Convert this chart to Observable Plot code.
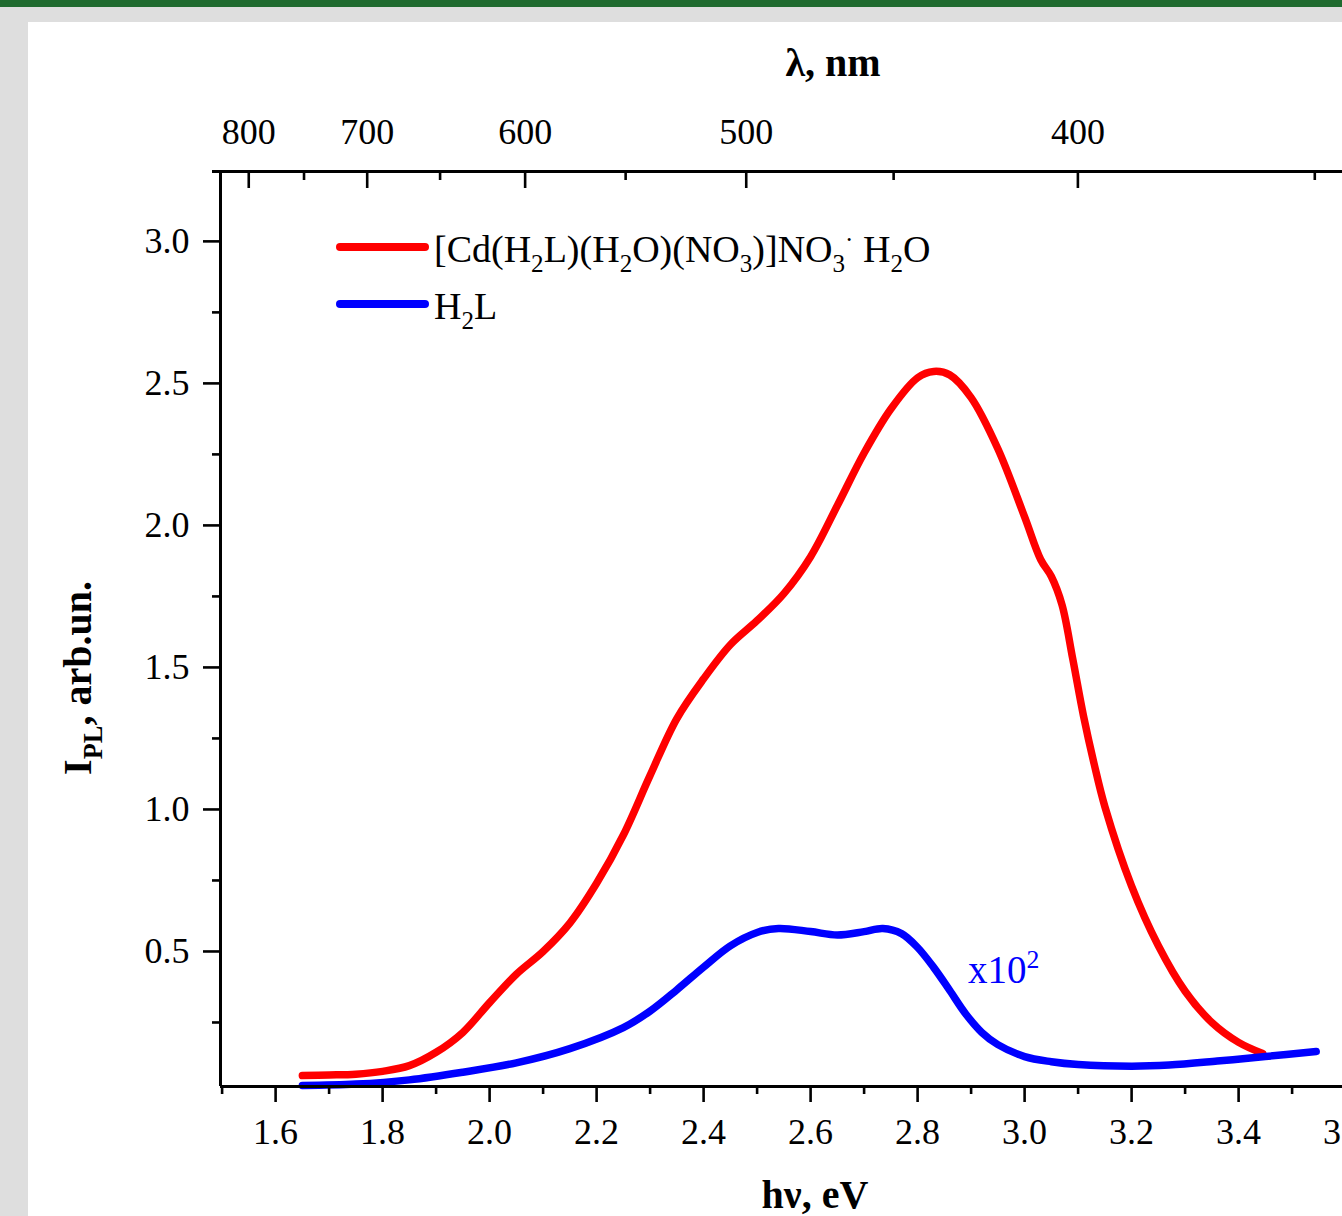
<!DOCTYPE html>
<html>
<head>
<meta charset="utf-8">
<script src="https://cdn.jsdelivr.net/npm/d3@7"></script>
<script src="https://cdn.jsdelivr.net/npm/@observablehq/plot@0.6"></script>
<style>
html, body { margin: 0; padding: 0; width: 1342px; height: 1216px; overflow: hidden; background: #dedede; }
#bar { position: absolute; left: 0; top: 0; width: 1342px; height: 7px; background: #1f6b2f; }
#panel { position: absolute; left: 28px; top: 22px; right: 0; bottom: 0; background: #ffffff; }
#chart { position: absolute; left: 0; top: 0; width: 1430px; height: 1216px; }
#chart svg { max-width: none !important; width: 1430px !important; height: 1216px !important; }
#overlay { position: absolute; left: 0; top: 0; pointer-events: none; }
</style>
</head>
<body>
<div id="bar"></div>
<div id="panel"></div>
<div id="chart"></div>
<svg id="overlay" width="1342" height="1216"></svg>
<script>
// ---------- data ----------
const redEnergy = [1.65,1.70,1.75,1.80,1.85,1.90,1.95,2.00,2.05,2.10,2.15,2.20,2.25,2.30,2.35,2.40,2.45,2.50,2.55,2.60,2.65,2.70,2.75,2.80,2.83,2.86,2.90,2.95,3.00,3.03,3.05,3.07,3.09,3.11,3.13,3.15,3.20,3.25,3.30,3.35,3.40,3.445];
const redIntensity = [0.063,0.065,0.068,0.078,0.098,0.145,0.215,0.32,0.42,0.50,0.60,0.74,0.91,1.12,1.32,1.46,1.58,1.665,1.76,1.89,2.07,2.255,2.41,2.52,2.542,2.53,2.45,2.27,2.03,1.88,1.82,1.72,1.53,1.33,1.16,1.01,0.73,0.52,0.36,0.25,0.18,0.141];

const blueEnergy = [1.65,1.75,1.85,1.95,2.05,2.15,2.25,2.30,2.35,2.40,2.45,2.50,2.54,2.60,2.65,2.70,2.735,2.77,2.80,2.83,2.86,2.89,2.92,2.95,3.00,3.05,3.10,3.20,3.27,3.36,3.45,3.545];
const blueIntensity = [0.028,0.033,0.048,0.075,0.108,0.158,0.232,0.29,0.365,0.445,0.52,0.567,0.581,0.570,0.558,0.570,0.581,0.563,0.514,0.444,0.363,0.28,0.215,0.172,0.13,0.112,0.102,0.096,0.100,0.114,0.130,0.148];

const seriesNames = ["[Cd(H2L)(H2O)(NO3)]NO3· H2O", "H2L"];
const seriesColors = ["#ff0000", "#0000ff"];

const xMajorTicks = [1.6,1.8,2.0,2.2,2.4,2.6,2.8,3.0,3.2,3.4,3.6];
const xMinorTicks = [1.5,1.7,1.9,2.1,2.3,2.5,2.7,2.9,3.1,3.3,3.5,3.7];
const yMajorTicks = [0.5,1.0,1.5,2.0,2.5,3.0];
const yMinorTicks = [0.25,0.75,1.25,1.75,2.25,2.75];
const lambdaMajorTicks = [800,700,600,500,400];
const lambdaMinorTicks = [750,650,550,450,350];

const xDomain = [1.497, 3.72];
const yDomain = [0.0246, 3.246];
const HC = 1239.84; // eV·nm

// ---------- build ----------
const red = redEnergy.map((e, i) => ({e, v: redIntensity[i]}));
const blue = blueEnergy.map((e, i) => ({e, v: blueIntensity[i]}));
const pxPerEV = 535;
const W = 1430, H = 1216;
const mL = 220, mT = 171, mB = H - 1086;
const mR = W - mL - pxPerEV * (xDomain[1] - xDomain[0]);

const chart = Plot.plot({
  width: W,
  height: H,
  marginLeft: mL,
  marginTop: mT,
  marginBottom: mB,
  marginRight: mR,
  x: {domain: xDomain, label: null},
  y: {domain: yDomain, label: null},
  style: {fontFamily: "'Liberation Serif', 'Times New Roman', serif", fontSize: "36px", color: "#000", background: "none", overflow: "visible", maxWidth: "none"},
  marks: [
    Plot.line(red, {x: "e", y: "v", stroke: seriesColors[0], strokeWidth: 7.5, curve: "catmull-rom", strokeLinecap: "round", strokeLinejoin: "round"}),
    Plot.line(blue, {x: "e", y: "v", stroke: seriesColors[1], strokeWidth: 7.5, curve: "catmull-rom", strokeLinecap: "round", strokeLinejoin: "round"}),
    // bottom axis
    Plot.axisX(xMajorTicks, {anchor: "bottom", tickSize: 16, tickPadding: 16, strokeWidth: 2.6, tickFormat: d => d.toFixed(1), label: null}),
    Plot.axisX(xMinorTicks, {anchor: "bottom", tickSize: 8, strokeWidth: 2.6, text: null, label: null}),
    // top axis (wavelength), ticks pointing inward
    Plot.axisX(lambdaMajorTicks.map(l => HC / l), {anchor: "top", tickSize: 16, dy: 16, strokeWidth: 2.6, text: null, label: null}),
    Plot.axisX(lambdaMajorTicks.map(l => HC / l), {anchor: "top", tickSize: 0, tickPadding: 28, tickFormat: d => String(Math.round(HC / d)), label: null}),
    Plot.axisX(lambdaMinorTicks.map(l => HC / l), {anchor: "top", tickSize: 8, dy: 8, strokeWidth: 2.6, text: null, label: null}),
    // left axis
    Plot.axisY(yMajorTicks, {anchor: "left", tickSize: 17, tickPadding: 14, strokeWidth: 2.6, tickFormat: d => d.toFixed(1), label: null}),
    Plot.axisY(yMinorTicks, {anchor: "left", tickSize: 8, strokeWidth: 2.6, text: null, label: null}),
    // axis lines
    Plot.ruleX([xDomain[0]], {stroke: "#000", strokeWidth: 3}),
    Plot.ruleY([yDomain[0]], {stroke: "#000", strokeWidth: 3}),
    Plot.ruleY([yDomain[1]], {x1: xDomain[0] - 8 / pxPerEV, x2: xDomain[1], stroke: "#000", strokeWidth: 3})
  ]
});
document.getElementById("chart").appendChild(chart);

// ---------- overlay texts (titles, legend, annotation) ----------
const sx = chart.scale("x"), sy = chart.scale("y");
const ov = d3.select("#overlay");
const serif = "'Liberation Serif', 'Times New Roman', serif";

function richText(sel, parts, size) {
  let shift = 0;
  parts.forEach(([t, mode]) => {
    const target = mode === "sub" ? size * 0.27 : mode === "sup" ? -size * 0.38 : 0;
    sel.append("tspan")
      .attr("font-size", mode ? size * 0.66 : size)
      .attr("dy", target - shift)
      .text(t);
    shift = target;
  });
}

// axis titles
richText(ov.append("text").attr("x", 833).attr("y", 76).attr("text-anchor", "middle")
  .attr("font-family", serif).attr("font-weight", "bold"), [["λ, nm", ""]], 40);
richText(ov.append("text").attr("x", 815).attr("y", 1208).attr("text-anchor", "middle")
  .attr("font-family", serif).attr("font-weight", "bold"), [["hν, eV", ""]], 40);
richText(ov.append("text").attr("transform", "translate(91,678) rotate(-90)").attr("text-anchor", "middle")
  .attr("font-family", serif).attr("font-weight", "bold"), [["I", ""], ["PL", "sub"], [", arb.un.", ""]], 40);

// legend
const legendParts = [
  [["[Cd(H", ""], ["2", "sub"], ["L)(H", ""], ["2", "sub"], ["O)(NO", ""], ["3", "sub"], [")]NO", ""], ["3", "sub"], ["·", "sup"], [" H", ""], ["2", "sub"], ["O", ""]],
  [["H", ""], ["2", "sub"], ["L", ""]]
];
seriesNames.forEach((name, i) => {
  const yLine = 247 + i * 57;
  ov.append("line").attr("x1", 340).attr("x2", 425).attr("y1", yLine).attr("y2", yLine)
    .attr("stroke", seriesColors[i]).attr("stroke-width", 8).attr("stroke-linecap", "round");
  richText(ov.append("text").attr("x", 434).attr("y", yLine + 15).attr("font-family", serif).attr("fill", "#000"),
    legendParts[i], 38);
});

// annotation "x10^2" for the H2L curve
richText(ov.append("text").attr("x", sx.apply(2.895)).attr("y", sy.apply(0.387)).attr("font-family", serif).attr("fill", seriesColors[1]),
  [["x10", ""], ["2", "sup"]], 39);
</script>
</body>
</html>
